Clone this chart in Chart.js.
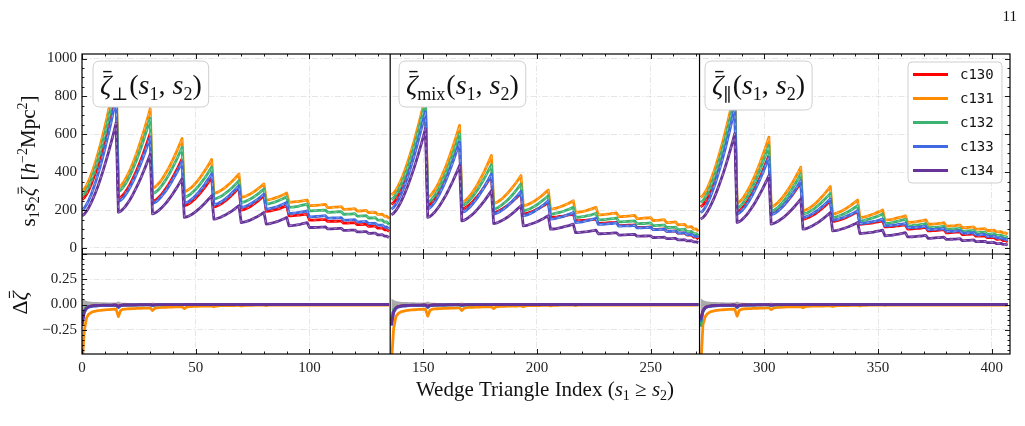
<!DOCTYPE html>
<html><head><meta charset="utf-8">
<script src="https://cdn.jsdelivr.net/npm/chart.js@4.4.1/dist/chart.umd.min.js"></script>
<style>html,body{margin:0;padding:0;background:#fff;}canvas{display:block;}</style>
</head><body>
<canvas id="c" width="1025" height="426"></canvas>
<script>
// ---------------- data ----------------
const seriesNames = ['c130','c131','c132','c133','c134'];
const xTickLabels = [0,50,100,150,200,250,300,350,400];
const yTopTicks = [0,200,400,600,800,1000];
const yResTicks = [-0.25,0,0.25];
const wedgeStarts = [0,136,272];
const wedgeDividers = [135.5,271.5];

// s1 s2 zeta-bar, perpendicular wedge
const perpC130 = [255,265,283,306,334,366,400,438,479,522,568,616,667,719,774,830,
260,267,279,294,313,333,357,382,409,438,468,500,534,569,605,
245,250,258,270,283,299,316,334,354,375,397,420,445,470,
223,227,233,242,252,263,276,290,305,320,337,355,373,
217,220,225,232,240,249,258,269,281,293,306,320,
200,202,207,212,219,227,235,245,254,265,276,
193,194,196,199,202,205,209,214,218,223,
170,170,171,172,173,174,176,177,179,
147,147,147,148,148,149,149,150,
140,140,140,141,141,142,142,
131,131,131,132,132,133,
123,123,123,124,124,
114,114,115,115,
105,105,106,
96,97,
88];
const perpC131 = [300,311,330,355,386,420,457,498,542,588,637,689,744,800,859,920,
320,328,342,361,384,408,437,467,499,534,571,609,650,691,735,
315,321,331,344,360,378,398,419,442,467,493,520,548,578,
297,301,309,318,330,343,357,373,390,408,426,446,467,
288,291,296,303,311,320,330,340,352,364,377,391,
267,269,273,279,285,292,300,309,318,328,338,
253,254,257,260,264,268,273,278,284,290,
241,242,243,244,245,247,249,251,253,
223,223,224,225,226,227,229,230,
213,213,214,215,216,217,218,
204,204,205,205,206,207,
195,195,196,197,198,
186,186,187,188,
177,177,178,
167,168,
155];
const perpC132 = [275,285,304,328,357,390,426,465,507,552,599,649,701,755,812,870,
298,305,319,336,357,380,407,435,465,497,531,567,605,644,684,
286,291,301,313,328,345,363,383,405,428,452,477,504,532,
267,271,278,287,298,310,323,338,354,370,388,407,426,
258,261,266,272,279,288,297,307,318,330,342,355,
240,242,246,252,258,265,273,282,291,301,311,
232,233,236,239,243,248,253,258,264,270,
214,215,216,218,220,223,226,229,232,
196,196,197,197,198,198,199,200,
188,188,189,189,190,191,192,
178,178,179,179,180,181,
168,168,169,169,170,
158,158,159,160,
147,147,148,
136,137,
124];
const perpC133 = [200,210,229,253,281,314,349,388,430,474,521,571,622,676,732,790,
245,252,263,279,297,317,341,365,392,420,450,482,515,549,585,
235,240,248,259,273,288,304,322,341,362,384,406,430,455,
235,239,246,255,265,277,290,305,320,336,354,372,391,
228,231,236,242,250,259,269,279,291,303,316,329,
214,216,220,225,232,239,247,255,264,274,284,
205,206,209,212,215,219,224,229,234,240,
182,183,184,185,187,189,191,193,196,
164,164,165,166,167,168,169,170,
157,157,158,158,159,159,160,
147,147,147,148,148,149,
138,138,139,139,140,
129,129,130,130,
120,120,121,
110,111,
100];
const perpC134 = [170,178,194,214,238,265,294,326,361,398,437,478,521,565,612,660,
188,194,205,218,235,253,274,297,321,346,373,402,432,463,495,
180,184,191,201,212,225,238,254,270,287,306,325,345,366,
161,164,169,175,183,192,202,212,224,236,249,262,276,
152,154,158,162,168,174,181,188,196,205,214,223,
134,136,139,143,147,153,159,165,172,179,187,
126,127,130,133,136,140,145,150,155,161,
117,118,119,121,123,125,128,131,134,
108,108,108,109,109,110,110,111,
101,101,101,102,102,103,103,
93,93,93,94,94,94,
85,85,85,86,86,
77,77,78,78,
69,69,70,
62,62,
55];

// mixed wedge
const mixC130 = [230,239,255,275,299,327,357,390,425,463,502,544,588,634,681,730,
223,230,242,257,276,297,320,345,372,401,431,463,497,532,568,
205,209,216,225,235,247,261,275,290,307,324,343,362,382,
187,189,194,200,207,215,223,233,243,254,265,277,290,
179,181,184,188,192,198,204,210,217,224,232,240,
161,162,163,164,166,167,169,172,174,176,179,
143,144,144,145,146,147,148,149,151,152,
130,130,131,131,132,133,133,134,135,
118,118,119,119,120,120,121,122,
108,108,108,109,109,110,111,
98,98,98,99,99,100,
88,88,89,89,90,
78,78,78,79,
68,68,69,
57,58,
46];
const mixC131 = [280,289,306,326,352,380,412,446,483,522,563,607,652,700,749,800,
267,274,288,305,325,348,374,402,431,463,497,532,569,607,647,
240,245,255,268,282,299,318,338,360,383,407,433,460,488,
235,239,245,253,263,275,287,301,315,331,347,364,382,
223,225,229,235,241,248,256,265,274,284,295,306,
205,206,209,212,216,221,225,231,236,243,249,
187,188,190,192,195,198,202,206,210,214,
175,175,176,177,179,180,182,183,185,
165,165,166,167,168,169,171,172,
155,155,156,157,158,159,160,
145,145,146,147,148,149,
134,134,135,136,137,
122,123,123,124,
110,111,112,
99,100,
88];
const mixC132 = [255,264,280,301,326,354,385,419,456,495,535,578,624,671,720,770,
240,247,260,276,296,317,342,369,397,427,459,493,528,565,603,
223,228,236,247,260,275,291,309,328,348,370,392,416,440,
205,208,214,222,231,241,252,264,277,291,306,322,338,
196,198,202,207,214,220,228,237,246,255,265,276,
179,180,182,185,188,191,195,200,204,209,214,
161,162,163,165,167,170,172,175,179,182,
148,148,149,150,152,153,155,156,158,
138,138,139,139,140,141,142,143,
128,128,129,129,130,131,132,
118,118,119,119,120,121,
108,108,109,109,110,
97,97,98,99,
86,86,87,
75,76,
64];
const mixC133 = [205,214,230,251,276,304,335,369,406,445,485,528,574,621,670,720,
205,212,224,240,259,280,305,330,358,388,419,452,486,522,559,
187,191,199,210,222,236,251,268,286,305,325,346,368,391,
179,182,187,194,202,211,221,233,244,257,270,284,299,
170,172,176,181,187,194,202,210,219,228,238,249,
152,153,155,158,161,164,168,173,177,182,187,
134,135,136,138,141,144,147,150,153,157,
124,124,125,126,127,128,129,131,132,
115,115,116,116,117,117,118,119,
106,106,106,107,107,108,109,
97,97,97,98,98,99,
88,88,88,89,89,
79,79,79,80,
70,70,71,
62,62,
55];
const mixC134 = [175,183,197,216,238,263,290,320,353,387,423,461,501,542,585,630,
161,166,176,188,203,219,238,258,279,302,327,352,379,406,435,
143,146,153,161,170,181,193,206,220,235,250,267,284,302,
129,131,135,141,147,154,162,171,180,190,201,212,223,
117,118,121,125,129,133,138,144,150,156,163,170,
99,100,101,103,106,109,112,115,118,122,126,
81,81,82,84,85,86,88,90,92,94,
75,75,76,76,77,77,78,79,80,
68,68,69,69,70,70,71,72,
62,62,62,63,63,64,64,
55,55,56,56,56,57,
49,49,49,50,50,
43,43,43,44,
37,37,38,
32,32,
28];

// parallel wedge
const parC130 = [217,226,243,264,291,320,352,387,425,465,507,552,599,647,698,750,
190,196,206,220,236,254,274,296,319,344,370,398,427,457,488,
179,183,189,198,208,219,231,245,260,275,292,309,327,346,
152,154,159,164,171,178,186,195,205,215,226,237,249,
140,141,144,148,152,156,161,167,173,179,186,193,
125,126,127,128,130,131,133,136,138,140,143,
111,111,112,113,114,116,117,119,120,122,
100,100,101,102,103,104,105,107,108,
90,90,91,92,93,94,95,96,
80,80,81,82,83,84,85,
71,71,72,72,73,74,
62,62,63,63,64,
54,54,55,55,
46,46,47,
39,39,
32];
const parC131 = [267,277,295,317,345,376,409,447,487,529,573,621,670,721,775,830,
235,242,254,270,289,310,333,359,386,416,446,479,513,548,585,
217,221,230,240,253,267,283,300,318,337,358,380,402,426,
196,199,205,212,221,230,241,253,266,279,293,308,324,
179,181,185,190,195,202,209,217,225,234,243,253,
161,162,164,167,171,175,179,184,189,194,200,
147,148,149,151,154,157,160,163,166,170,
134,135,136,137,139,141,143,145,148,
125,125,126,127,128,130,131,133,
115,115,116,117,118,120,121,
107,107,108,109,110,111,
99,99,100,101,102,
92,92,93,94,
85,85,86,
79,79,
73];
const parC132 = [240,249,267,289,316,346,379,416,455,496,539,585,634,684,736,790,
210,216,228,243,261,281,303,327,353,381,410,441,473,506,541,
193,197,205,215,227,240,255,271,289,307,327,347,369,391,
179,182,186,193,200,208,218,228,238,250,262,275,288,
161,163,166,170,175,180,186,192,199,207,215,223,
143,144,146,149,152,156,160,164,169,174,179,
129,130,131,133,136,139,142,145,148,152,
117,117,118,120,121,122,124,126,128,
107,107,108,109,110,111,113,114,
98,98,99,100,101,102,103,
89,89,90,90,91,92,
81,81,82,82,83,
73,73,74,75,
66,66,67,
60,60,
55];
const parC133 = [187,196,214,236,263,294,327,363,403,444,488,534,583,633,686,740,
179,185,195,209,225,243,263,285,309,334,360,388,417,448,479,
175,179,186,195,206,218,232,246,262,279,297,315,335,355,
161,163,168,173,180,187,195,204,214,224,235,246,258,
147,148,151,154,158,162,167,172,177,183,189,196,
129,130,131,133,135,137,140,142,145,149,152,
117,117,118,119,121,122,124,125,127,129,
107,107,108,109,109,110,112,113,114,
97,97,98,98,99,100,101,102,
87,87,88,88,89,90,91,
78,78,79,79,80,81,
69,69,70,70,71,
61,61,62,62,
53,53,54,
47,47,
41];
const parC134 = [152,160,174,192,214,239,266,296,328,362,397,435,475,516,559,603,
134,139,147,159,172,187,204,222,241,262,284,307,331,356,382,
126,129,134,141,149,158,167,178,190,202,215,229,243,258,
99,101,105,110,116,123,130,138,147,156,166,176,187,
90,91,93,96,100,103,108,112,117,123,128,134,
76,77,78,79,81,82,84,87,89,91,94,
64,65,66,67,69,71,73,76,78,81,
58,58,59,60,61,62,63,65,66,
51,51,52,53,54,55,56,57,
45,45,46,46,47,48,49,
39,39,40,40,41,42,
33,33,34,34,35,
28,28,28,29,
23,23,24,
19,19,
16];

// relative residuals Delta zeta-bar
const resPerpC130 = [-0.17,-0.06,-0.03,-0.02,-0.015,-0.012,-0.011,-0.01,-0.01,-0.009,-0.009,-0.008,-0.008,-0.008,-0.007,-0.007,
-0.02,-0.008,-0.006,-0.005,-0.005,-0.004,-0.004,-0.004,-0.003,-0.003,-0.003,-0.003,-0.002,-0.002,-0.002,
-0.006,-0.003,-0.002,-0.002,-0.002,-0.001,-0.001,-0.001,-0.001,-0.001,-0.001,-0.001,-0.001,-0.001,
0,0,0,0,0,0,0,0,0,0,0,0,0,0,0,0,0,0,0,0,0,0,0,0,0,0,0,0,0,0,0,0,0,0,0,0,0,0,0,0,0,0,0,0,0,0,
0,0,0,0,0,0,0,0,0,0,0,0,0,0,0,0,0,0,0,0,0,0,0,0,0,0,0,0,0,0,0,0,0,0,0,0,0,0,0,0,0,0,0,0,0];
const resPerpC131 = [-0.62,-0.26,-0.13,-0.095,-0.08,-0.07,-0.065,-0.06,-0.058,-0.055,-0.053,-0.051,-0.05,-0.048,-0.047,-0.046,
-0.12,-0.06,-0.048,-0.045,-0.043,-0.042,-0.041,-0.04,-0.039,-0.038,-0.037,-0.036,-0.035,-0.035,-0.034,
-0.06,-0.038,-0.032,-0.03,-0.029,-0.028,-0.027,-0.026,-0.025,-0.025,-0.024,-0.023,-0.023,-0.022,
-0.04,-0.025,-0.021,-0.02,-0.019,-0.018,-0.018,-0.017,-0.016,-0.016,-0.015,-0.015,-0.014,
-0.022,-0.015,-0.013,-0.012,-0.012,-0.011,-0.011,-0.01,-0.01,-0.01,-0.009,-0.009,
-0.014,-0.01,-0.009,-0.008,-0.008,-0.008,-0.007,-0.007,-0.007,-0.007,-0.006,
-0.01,-0.007,-0.006,-0.006,-0.006,-0.005,-0.005,-0.005,-0.005,-0.005,
-0.007,-0.005,-0.005,-0.005,-0.005,-0.005,-0.005,-0.005,-0.005,
-0.006,-0.005,-0.005,-0.005,-0.005,-0.005,-0.005,-0.005,
-0.005,-0.005,-0.005,-0.005,-0.005,-0.005,-0.005,
-0.005,-0.005,-0.005,-0.005,-0.005,-0.005,
-0.005,-0.005,-0.005,-0.005,-0.005,
-0.005,-0.005,-0.005,-0.005,-0.005,-0.005,-0.005,-0.005,-0.005,-0.005];
const resPerpC132 = [-0.12,-0.05,-0.03,-0.02,-0.016,-0.014,-0.013,-0.012,-0.011,-0.01,-0.01,-0.009,-0.009,-0.008,-0.008,-0.008,
-0.025,-0.01,-0.008,-0.007,-0.006,-0.006,-0.005,-0.005,-0.005,-0.004,-0.004,-0.004,-0.004,-0.003,-0.003,
-0.01,-0.005,-0.004,-0.003,-0.003,-0.003,-0.002,-0.002,-0.002,-0.002,-0.002,-0.002,-0.002,-0.002,
0,0,0,0,0,0,0,0,0,0,0,0,0,0,0,0,0,0,0,0,0,0,0,0,0,0,0,0,0,0,0,0,0,0,0,0,0,0,0,0,0,0,0,0,0,0,
0,0,0,0,0,0,0,0,0,0,0,0,0,0,0,0,0,0,0,0,0,0,0,0,0,0,0,0,0,0,0,0,0,0,0,0,0,0,0,0,0,0,0,0,0];
const resPerpC133 = [-0.2,-0.08,-0.04,-0.025,-0.02,-0.017,-0.015,-0.013,-0.012,-0.011,-0.01,-0.01,-0.009,-0.009,-0.008,-0.008,
-0.03,-0.012,-0.008,-0.007,-0.006,-0.005,-0.005,-0.005,-0.004,-0.004,-0.004,-0.003,-0.003,-0.003,-0.003,
-0.01,-0.004,-0.003,-0.002,-0.002,-0.002,-0.002,-0.002,-0.001,-0.001,-0.001,-0.001,-0.001,-0.001,
0,0,0,0,0,0,0,0,0,0,0,0,0,0,0,0,0,0,0,0,0,0,0,0,0,0,0,0,0,0,0,0,0,0,0,0,0,0,0,0,0,0,0,0,0,0,
0,0,0,0,0,0,0,0,0,0,0,0,0,0,0,0,0,0,0,0,0,0,0,0,0,0,0,0,0,0,0,0,0,0,0,0,0,0,0,0,0,0,0,0,0];
const resPerpC134 = [-0.2,-0.07,-0.035,-0.02,-0.015,-0.012,-0.01,-0.009,-0.008,-0.007,-0.007,-0.006,-0.006,-0.006,-0.005,-0.005,
-0.02,-0.008,-0.005,-0.004,-0.004,-0.003,-0.003,-0.003,-0.003,-0.002,-0.002,-0.002,-0.002,-0.002,-0.002,
-0.006,-0.003,-0.002,-0.001,-0.001,-0.001,-0.001,-0.001,-0.001,-0.001,-0.001,-0.001,-0.001,-0.001,
0,0,0,0,0,0,0,0,0,0,0,0,0,0,0,0,0,0,0,0,0,0,0,0,0,0,0,0,0,0,0,0,0,0,0,0,0,0,0,0,0,0,0,0,0,0,
0,0,0,0,0,0,0,0,0,0,0,0,0,0,0,0,0,0,0,0,0,0,0,0,0,0,0,0,0,0,0,0,0,0,0,0,0,0,0,0,0,0,0,0,0];

const resMixC130 = [-0.16,-0.06,-0.03,-0.02,-0.015,-0.012,-0.011,-0.01,-0.01,-0.009,-0.009,-0.008,-0.008,-0.008,-0.007,-0.007,
-0.02,-0.008,-0.006,-0.005,-0.005,-0.004,-0.004,-0.004,-0.003,-0.003,-0.003,-0.003,-0.002,-0.002,-0.002,
-0.006,-0.003,-0.002,-0.002,-0.002,-0.001,-0.001,-0.001,-0.001,-0.001,-0.001,-0.001,-0.001,-0.001,
0,0,0,0,0,0,0,0,0,0,0,0,0,0,0,0,0,0,0,0,0,0,0,0,0,0,0,0,0,0,0,0,0,0,0,0,0,0,0,0,0,0,0,0,0,0,
0,0,0,0,0,0,0,0,0,0,0,0,0,0,0,0,0,0,0,0,0,0,0,0,0,0,0,0,0,0,0,0,0,0,0,0,0,0,0,0,0,0,0,0,0];
const resMixC131 = [-0.6,-0.24,-0.12,-0.09,-0.075,-0.067,-0.062,-0.058,-0.056,-0.054,-0.052,-0.05,-0.049,-0.048,-0.047,-0.046,
-0.115,-0.058,-0.047,-0.044,-0.042,-0.041,-0.04,-0.039,-0.038,-0.037,-0.036,-0.035,-0.035,-0.034,-0.034,
-0.06,-0.037,-0.031,-0.029,-0.028,-0.027,-0.026,-0.025,-0.025,-0.024,-0.024,-0.023,-0.022,-0.022,
-0.04,-0.024,-0.02,-0.019,-0.018,-0.018,-0.017,-0.016,-0.016,-0.015,-0.015,-0.014,-0.014,
-0.022,-0.014,-0.012,-0.011,-0.011,-0.01,-0.01,-0.01,-0.009,-0.009,-0.009,-0.009,
-0.014,-0.009,-0.008,-0.008,-0.007,-0.007,-0.007,-0.007,-0.006,-0.006,-0.006,
-0.01,-0.006,-0.006,-0.005,-0.005,-0.005,-0.005,-0.005,-0.005,-0.005,
-0.007,-0.005,-0.005,-0.005,-0.005,-0.005,-0.005,-0.005,-0.005,
-0.006,-0.005,-0.005,-0.005,-0.005,-0.005,-0.005,-0.005,
-0.005,-0.005,-0.005,-0.005,-0.005,-0.005,-0.005,
-0.005,-0.005,-0.005,-0.005,-0.005,-0.005,
-0.005,-0.005,-0.005,-0.005,-0.005,
-0.005,-0.005,-0.005,-0.005,-0.005,-0.005,-0.005,-0.005,-0.005,-0.005];
const resMixC132 = [-0.13,-0.05,-0.03,-0.02,-0.016,-0.014,-0.013,-0.012,-0.011,-0.01,-0.01,-0.009,-0.009,-0.008,-0.008,-0.008,
-0.025,-0.01,-0.008,-0.007,-0.006,-0.006,-0.005,-0.005,-0.005,-0.004,-0.004,-0.004,-0.004,-0.003,-0.003,
-0.01,-0.005,-0.004,-0.003,-0.003,-0.003,-0.002,-0.002,-0.002,-0.002,-0.002,-0.002,-0.002,-0.002,
0,0,0,0,0,0,0,0,0,0,0,0,0,0,0,0,0,0,0,0,0,0,0,0,0,0,0,0,0,0,0,0,0,0,0,0,0,0,0,0,0,0,0,0,0,0,
0,0,0,0,0,0,0,0,0,0,0,0,0,0,0,0,0,0,0,0,0,0,0,0,0,0,0,0,0,0,0,0,0,0,0,0,0,0,0,0,0,0,0,0,0];
const resMixC133 = [-0.21,-0.08,-0.04,-0.025,-0.02,-0.017,-0.015,-0.013,-0.012,-0.011,-0.01,-0.01,-0.009,-0.009,-0.008,-0.008,
-0.03,-0.012,-0.008,-0.007,-0.006,-0.005,-0.005,-0.005,-0.004,-0.004,-0.004,-0.003,-0.003,-0.003,-0.003,
-0.01,-0.004,-0.003,-0.002,-0.002,-0.002,-0.002,-0.002,-0.001,-0.001,-0.001,-0.001,-0.001,-0.001,
0,0,0,0,0,0,0,0,0,0,0,0,0,0,0,0,0,0,0,0,0,0,0,0,0,0,0,0,0,0,0,0,0,0,0,0,0,0,0,0,0,0,0,0,0,0,
0,0,0,0,0,0,0,0,0,0,0,0,0,0,0,0,0,0,0,0,0,0,0,0,0,0,0,0,0,0,0,0,0,0,0,0,0,0,0,0,0,0,0,0,0];
const resMixC134 = [-0.2,-0.07,-0.035,-0.02,-0.015,-0.012,-0.01,-0.009,-0.008,-0.007,-0.007,-0.006,-0.006,-0.006,-0.005,-0.005,
-0.02,-0.008,-0.005,-0.004,-0.004,-0.003,-0.003,-0.003,-0.003,-0.002,-0.002,-0.002,-0.002,-0.002,-0.002,
-0.006,-0.003,-0.002,-0.001,-0.001,-0.001,-0.001,-0.001,-0.001,-0.001,-0.001,-0.001,-0.001,-0.001,
0,0,0,0,0,0,0,0,0,0,0,0,0,0,0,0,0,0,0,0,0,0,0,0,0,0,0,0,0,0,0,0,0,0,0,0,0,0,0,0,0,0,0,0,0,0,
0,0,0,0,0,0,0,0,0,0,0,0,0,0,0,0,0,0,0,0,0,0,0,0,0,0,0,0,0,0,0,0,0,0,0,0,0,0,0,0,0,0,0,0,0];

const resParC130 = [-0.16,-0.06,-0.03,-0.02,-0.015,-0.012,-0.011,-0.01,-0.01,-0.009,-0.009,-0.008,-0.008,-0.008,-0.007,-0.007,
-0.02,-0.008,-0.006,-0.005,-0.005,-0.004,-0.004,-0.004,-0.003,-0.003,-0.003,-0.003,-0.002,-0.002,-0.002,
-0.006,-0.003,-0.002,-0.002,-0.002,-0.001,-0.001,-0.001,-0.001,-0.001,-0.001,-0.001,-0.001,-0.001,
0,0,0,0,0,0,0,0,0,0,0,0,0,0,0,0,0,0,0,0,0,0,0,0,0,0,0,0,0,0,0,0,0,0,0,0,0,0,0,0,0,0,0,0,0,0,
0,0,0,0,0,0,0,0,0,0,0,0,0,0,0,0,0,0,0,0,0,0,0,0,0,0,0,0,0,0,0,0,0,0,0,0,0,0,0,0,0,0,0,0,0];
const resParC131 = [-0.65,-0.2,-0.12,-0.09,-0.075,-0.067,-0.062,-0.058,-0.056,-0.054,-0.052,-0.05,-0.049,-0.048,-0.047,-0.046,
-0.115,-0.058,-0.047,-0.044,-0.042,-0.041,-0.04,-0.039,-0.038,-0.037,-0.036,-0.035,-0.035,-0.034,-0.034,
-0.05,-0.035,-0.03,-0.028,-0.027,-0.026,-0.025,-0.024,-0.024,-0.023,-0.023,-0.022,-0.022,-0.021,
-0.032,-0.022,-0.019,-0.018,-0.017,-0.017,-0.016,-0.016,-0.015,-0.015,-0.014,-0.014,-0.013,
-0.02,-0.013,-0.012,-0.011,-0.011,-0.01,-0.01,-0.01,-0.009,-0.009,-0.009,-0.009,
-0.013,-0.009,-0.008,-0.008,-0.007,-0.007,-0.007,-0.007,-0.006,-0.006,-0.006,
-0.009,-0.006,-0.006,-0.005,-0.005,-0.005,-0.005,-0.005,-0.005,-0.005,
-0.007,-0.005,-0.005,-0.005,-0.005,-0.005,-0.005,-0.005,-0.005,
-0.006,-0.005,-0.005,-0.005,-0.005,-0.005,-0.005,-0.005,
-0.005,-0.005,-0.005,-0.005,-0.005,-0.005,-0.005,
-0.005,-0.005,-0.005,-0.005,-0.005,-0.005,
-0.005,-0.005,-0.005,-0.005,-0.005,
-0.005,-0.005,-0.005,-0.005,-0.005,-0.005,-0.005,-0.005,-0.005,-0.005];
const resParC132 = [-0.22,-0.07,-0.035,-0.022,-0.017,-0.014,-0.013,-0.012,-0.011,-0.01,-0.01,-0.009,-0.009,-0.008,-0.008,-0.008,
-0.028,-0.01,-0.008,-0.007,-0.006,-0.006,-0.005,-0.005,-0.005,-0.004,-0.004,-0.004,-0.004,-0.003,-0.003,
-0.01,-0.005,-0.004,-0.003,-0.003,-0.003,-0.002,-0.002,-0.002,-0.002,-0.002,-0.002,-0.002,-0.002,
0,0,0,0,0,0,0,0,0,0,0,0,0,0,0,0,0,0,0,0,0,0,0,0,0,0,0,0,0,0,0,0,0,0,0,0,0,0,0,0,0,0,0,0,0,0,
0,0,0,0,0,0,0,0,0,0,0,0,0,0,0,0,0,0,0,0,0,0,0,0,0,0,0,0,0,0,0,0,0,0,0,0,0,0,0,0,0,0,0,0,0];
const resParC133 = [-0.17,-0.07,-0.035,-0.022,-0.018,-0.016,-0.014,-0.013,-0.012,-0.011,-0.01,-0.01,-0.009,-0.009,-0.008,-0.008,
-0.03,-0.012,-0.008,-0.007,-0.006,-0.005,-0.005,-0.005,-0.004,-0.004,-0.004,-0.003,-0.003,-0.003,-0.003,
-0.01,-0.004,-0.003,-0.002,-0.002,-0.002,-0.002,-0.002,-0.001,-0.001,-0.001,-0.001,-0.001,-0.001,
0,0,0,0,0,0,0,0,0,0,0,0,0,0,0,0,0,0,0,0,0,0,0,0,0,0,0,0,0,0,0,0,0,0,0,0,0,0,0,0,0,0,0,0,0,0,
0,0,0,0,0,0,0,0,0,0,0,0,0,0,0,0,0,0,0,0,0,0,0,0,0,0,0,0,0,0,0,0,0,0,0,0,0,0,0,0,0,0,0,0,0];
const resParC134 = [-0.15,-0.06,-0.03,-0.02,-0.015,-0.012,-0.01,-0.009,-0.008,-0.007,-0.007,-0.006,-0.006,-0.006,-0.005,-0.005,
-0.02,-0.008,-0.005,-0.004,-0.004,-0.003,-0.003,-0.003,-0.003,-0.002,-0.002,-0.002,-0.002,-0.002,-0.002,
-0.006,-0.003,-0.002,-0.001,-0.001,-0.001,-0.001,-0.001,-0.001,-0.001,-0.001,-0.001,-0.001,-0.001,
0,0,0,0,0,0,0,0,0,0,0,0,0,0,0,0,0,0,0,0,0,0,0,0,0,0,0,0,0,0,0,0,0,0,0,0,0,0,0,0,0,0,0,0,0,0,
0,0,0,0,0,0,0,0,0,0,0,0,0,0,0,0,0,0,0,0,0,0,0,0,0,0,0,0,0,0,0,0,0,0,0,0,0,0,0,0,0,0,0,0,0];

// half-width of the grey uncertainty band around zero
const bandHalfWidth = [0.06,0.045,0.035,0.03,0.028,0.026,0.025,0.024,0.023,0.022,0.022,0.021,0.021,0.02,0.02,0.02,
0.03,0.02,0.018,0.017,0.016,0.016,0.015,0.015,0.014,0.014,0.014,0.013,0.013,0.013,0.013,
0.02,0.014,0.012,0.012,0.011,0.011,0.011,0.01,0.01,0.01,0.01,0.01,0.009,0.009,
0.014,0.01,0.009,0.009,0.008,0.008,0.008,0.008,0.008,0.007,0.007,0.007,0.007,
0.01,0.008,0.007,0.007,0.007,0.006,0.006,0.006,0.006,0.006,0.006,0.006,
0.008,0.006,0.006,0.006,0.006,0.006,0.006,0.006,0.006,0.006,0.006,
0.007,0.005,0.005,0.005,0.005,0.005,0.005,0.005,0.005,0.005,
0.004,0.004,0.004,0.004,0.004,0.004,0.004,0.004,0.004,0.004,0.004,0.004,0.004,0.004,0.004,
0.004,0.004,0.004,0.004,0.004,0.004,0.004,0.004,0.004,0.004,0.004,0.004,0.004,0.004,0.004,
0.004,0.004,0.004,0.004,0.004,0.004,0.004,0.004,0.004,0.004,0.004,0.004,0.004,0.004,0.004];

// ---------------- styling ----------------
const COLORS = ['#ff0000','#ff8c00','#3cb371','#4169e1','#663399'];
const ORDERS = [50,40,30,20,10];
const SERIF = '"Liberation Serif","DejaVu Serif",serif';
const MONO = '"DejaVu Sans Mono","Liberation Mono",monospace';
const LW = 2.8;

const topSets = [[perpC130,mixC130,parC130],[perpC131,mixC131,parC131],[perpC132,mixC132,parC132],[perpC133,mixC133,parC133],[perpC134,mixC134,parC134]];
const resSets = [[resPerpC130,resMixC130,resParC130],[resPerpC131,resMixC131,resParC131],[resPerpC132,resMixC132,resParC132],[resPerpC133,resMixC133,resParC133],[resPerpC134,resMixC134,resParC134]];

const toPts = (arr, off) => arr.map((v,i)=>({x: off + i, y: v}));
const datasets = [];
topSets.forEach((panels, s) => {
  panels.forEach((arr, p) => {
    datasets.push({label: seriesNames[s], data: toPts(arr, wedgeStarts[p]), yAxisID: 'yTop', borderColor: COLORS[s], borderWidth: LW, order: ORDERS[s], fill: false, pointRadius: 0});
    datasets.push({label: seriesNames[s]+' model', data: toPts(arr, wedgeStarts[p]), yAxisID: 'yTop', borderColor: 'rgba(255,255,255,0.55)', borderWidth: 0.7, borderDash: [3,4], order: ORDERS[s]-1, fill: false, pointRadius: 0});
  });
});
wedgeStarts.forEach((off) => {
  datasets.push({label: 'band+', data: toPts(bandHalfWidth, off), yAxisID: 'yRes', borderWidth: 0, borderColor: 'rgba(0,0,0,0)', backgroundColor: 'rgba(150,150,150,0.8)', fill: '+1', order: 100, pointRadius: 0});
  datasets.push({label: 'band-', data: toPts(bandHalfWidth.map(v => -v), off), yAxisID: 'yRes', borderWidth: 0, borderColor: 'rgba(0,0,0,0)', fill: false, order: 100, pointRadius: 0});
});
resSets.forEach((panels, s) => {
  panels.forEach((arr, p) => {
    datasets.push({label: seriesNames[s]+' res', data: toPts(arr, wedgeStarts[p]), yAxisID: 'yRes', borderColor: COLORS[s], borderWidth: LW, order: ORDERS[s], fill: false, pointRadius: 0});
  });
});

// ---------------- text helpers ----------------
function fontOf(r){ return (r.it ? 'italic ' : '') + r.sz + 'px ' + (r.fam || SERIF); }
function drawRuns(ctx, runs, x, y, align, rot) {
  ctx.save();
  ctx.translate(x, y);
  if (rot) ctx.rotate(rot);
  let total = 0;
  runs.forEach(r => { ctx.font = fontOf(r); r.w = ctx.measureText(r.t).width; total += r.w + (r.gap || 0); });
  let cx = align === 'center' ? -total / 2 : 0;
  ctx.textAlign = 'left'; ctx.textBaseline = 'alphabetic';
  ctx.fillStyle = '#111'; ctx.strokeStyle = '#111';
  runs.forEach(r => {
    ctx.font = fontOf(r);
    ctx.fillText(r.t, cx, r.dy || 0);
    if (r.bar) {
      ctx.lineWidth = Math.max(1, r.sz * 0.05);
      ctx.beginPath();
      ctx.moveTo(cx + r.w * 0.28, -r.sz * 0.8);
      ctx.lineTo(cx + r.w * 1.02, -r.sz * 0.8);
      ctx.stroke();
    }
    cx += r.w + (r.gap || 0);
  });
  ctx.restore();
  return total;
}
function rrect(ctx, x, y, w, h, r) {
  ctx.beginPath();
  ctx.moveTo(x + r, y); ctx.lineTo(x + w - r, y); ctx.quadraticCurveTo(x + w, y, x + w, y + r);
  ctx.lineTo(x + w, y + h - r); ctx.quadraticCurveTo(x + w, y + h, x + w - r, y + h);
  ctx.lineTo(x + r, y + h); ctx.quadraticCurveTo(x, y + h, x, y + h - r);
  ctx.lineTo(x, y + r); ctx.quadraticCurveTo(x, y, x + r, y);
  ctx.closePath();
}

const M = 28, S = 18;
const panelLabels = [
  {x: 100, runs: [{t:'ζ', it:true, sz:M, bar:true},{t:'⊥', sz:S, dy:6, gap:1},{t:'(', sz:M},{t:'s', it:true, sz:M},{t:'1', sz:S, dy:6},{t:', ', sz:M},{t:'s', it:true, sz:M},{t:'2', sz:S, dy:6},{t:')', sz:M}]},
  {x: 406, runs: [{t:'ζ', it:true, sz:M, bar:true},{t:'mix', sz:S, dy:6, gap:1},{t:'(', sz:M},{t:'s', it:true, sz:M},{t:'1', sz:S, dy:6},{t:', ', sz:M},{t:'s', it:true, sz:M},{t:'2', sz:S, dy:6},{t:')', sz:M}]},
  {x: 712, runs: [{t:'ζ', it:true, sz:M, bar:true},{t:'∥', sz:S, dy:7, gap:1},{t:'(', sz:M},{t:'s', it:true, sz:M},{t:'1', sz:S, dy:6},{t:', ', sz:M},{t:'s', it:true, sz:M},{t:'2', sz:S, dy:6},{t:')', sz:M}], tall: true}
];

const decor = {
  id: 'decor',
  afterDraw(chart) {
    const {ctx, chartArea: ca, scales} = chart;
    const xs = scales.x, yt = scales.yTop, yb = scales.yRes;
    ctx.save();
    const seg = (x1,y1,x2,y2) => { ctx.beginPath(); ctx.moveTo(x1,y1); ctx.lineTo(x2,y2); ctx.stroke(); };
    // ticks
    ctx.strokeStyle = '#000'; ctx.lineWidth = 0.9;
    const L = ca.left, R = ca.right;
    for (let v = 0; v <= 408; v += 10) {
      const px = Math.round(xs.getPixelForValue(v)) + 0.5;
      const len = (v % 50 === 0) ? 5 : 2.5;
      [[yt.top, 1],[yt.bottom, -1],[yb.top, 1],[yb.bottom, -1]].forEach(([yy, d]) => seg(px, yy, px, yy + d*len));
    }
    for (let v = 0; v <= 1000; v += 50) {
      const py = Math.round(yt.getPixelForValue(v)) + 0.5;
      const len = (v % 200 === 0) ? 5 : 2.5;
      seg(L, py, L + len, py); seg(R, py, R - len, py);
    }
    for (let k = -9; k <= 10; k++) {
      const v = k * 0.05;
      const py = Math.round(yb.getPixelForValue(v)) + 0.5;
      const len = (k % 5 === 0) ? 5 : 2.5;
      seg(L, py, L + len, py); seg(R, py, R - len, py);
    }
    // frame & wedge dividers
    ctx.lineWidth = 1.2;
    ctx.strokeRect(L, yt.top, R - L, yb.bottom - yt.top);
    seg(L, yt.bottom, R, yt.bottom);
    wedgeDividers.forEach(d => { const px = xs.getPixelForValue(d); seg(px, yt.top, px, yb.bottom); });

    // panel label boxes
    panelLabels.forEach(pl => {
      let w = 0; pl.runs.forEach(r => { ctx.font = fontOf(r); w += ctx.measureText(r.t).width + (r.gap||0); });
      const bx = pl.x - 7, by = 61, bw = w + 14, bh = pl.tall ? 49 : 46;
      rrect(ctx, bx, by, bw, bh, 7);
      ctx.fillStyle = '#ffffff'; ctx.fill();
      ctx.strokeStyle = '#cfcfcf'; ctx.lineWidth = 1; ctx.stroke();
      drawRuns(ctx, pl.runs, pl.x, 94, 'left', 0);
    });

    // legend
    rrect(ctx, 908, 62, 94, 121, 4);
    ctx.fillStyle = 'rgba(255,255,255,0.92)'; ctx.fill();
    ctx.strokeStyle = '#cfcfcf'; ctx.lineWidth = 1; ctx.stroke();
    seriesNames.forEach((n, i) => {
      const yy = 74.5 + i * 24;
      ctx.strokeStyle = COLORS[i]; ctx.lineWidth = LW;
      seg(913, yy, 948, yy);
      ctx.fillStyle = '#111'; ctx.font = '14px ' + MONO; ctx.textBaseline = 'middle'; ctx.textAlign = 'left';
      ctx.fillText(n, 960, yy + 1);
    });

    // axis titles
    drawRuns(ctx, [{t:'s', sz:21},{t:'1', sz:14, dy:4},{t:'s', sz:21},{t:'2', sz:14, dy:4},{t:'ζ', it:true, sz:21, bar:true, gap:2},{t:' [', sz:21},{t:'h', it:true, sz:21},{t:'−2', sz:14, dy:-8},{t:'Mpc', sz:21},{t:'2', sz:14, dy:-8},{t:']', sz:21}], 35, 161, 'center', -Math.PI/2);
    drawRuns(ctx, [{t:'Δ', sz:22},{t:'ζ', it:true, sz:22, bar:true}], 27, 303, 'center', -Math.PI/2);
    drawRuns(ctx, [{t:'Wedge Triangle Index (', sz:21},{t:'s', it:true, sz:21},{t:'1', sz:14, dy:4},{t:' ≥ ', sz:21},{t:'s', it:true, sz:21},{t:'2', sz:14, dy:4},{t:')', sz:21}], 545, 396, 'center', 0);
    // page number
    ctx.fillStyle = '#111'; ctx.font = '15px ' + SERIF; ctx.textAlign = 'right'; ctx.textBaseline = 'alphabetic';
    ctx.fillText('11', 1017, 21);
    ctx.restore();
  }
};

const DASH = [6,2,1.5,2];
const gridStyle = { color: 'rgba(0,0,0,0.11)', lineWidth: 0.9, drawTicks: false, tickLength: 0 };
const tickFont = { family: SERIF, size: 15 };

new Chart(document.getElementById('c'), {
  type: 'line',
  data: { datasets },
  options: {
    responsive: false, animation: false, devicePixelRatio: 1,
    layout: { padding: { top: 54, right: 15, left: 0, bottom: 0 } },
    plugins: { legend: { display: false }, tooltip: { enabled: false }, title: { display: false } },
    elements: { point: { radius: 0 }, line: { tension: 0, borderJoinStyle: 'round' } },
    scales: {
      x: {
        type: 'linear', min: 0, max: 408, position: 'bottom',
        afterBuildTicks: s => { s.ticks = xTickLabels.map(v => ({value: v})); },
        afterFit: s => { s.height = 72; },
        grid: gridStyle,
        border: { display: false, dash: DASH },
        ticks: { font: tickFont, color: '#222', padding: 5, maxRotation: 0, autoSkip: false, callback: v => String(v) }
      },
      yRes: {
        type: 'linear', min: -0.49, max: 0.5, position: 'left', stack: 'main', stackWeight: 1,
        afterBuildTicks: s => { s.ticks = yResTicks.map(v => ({value: v})); },
        afterFit: s => { s.width = 82; },
        grid: gridStyle,
        border: { display: false, dash: DASH },
        ticks: { font: tickFont, color: '#222', padding: 5, callback: v => (v < 0 ? '−' : '') + Math.abs(v).toFixed(2) }
      },
      yTop: {
        type: 'linear', min: -32, max: 1024, position: 'left', stack: 'main', stackWeight: 2,
        afterBuildTicks: s => { s.ticks = yTopTicks.map(v => ({value: v})); },
        afterFit: s => { s.width = 82; },
        grid: gridStyle,
        border: { display: false, dash: DASH },
        ticks: { font: tickFont, color: '#222', padding: 5, callback: v => String(v) }
      }
    }
  },
  plugins: [decor]
});
</script>
</body></html>
